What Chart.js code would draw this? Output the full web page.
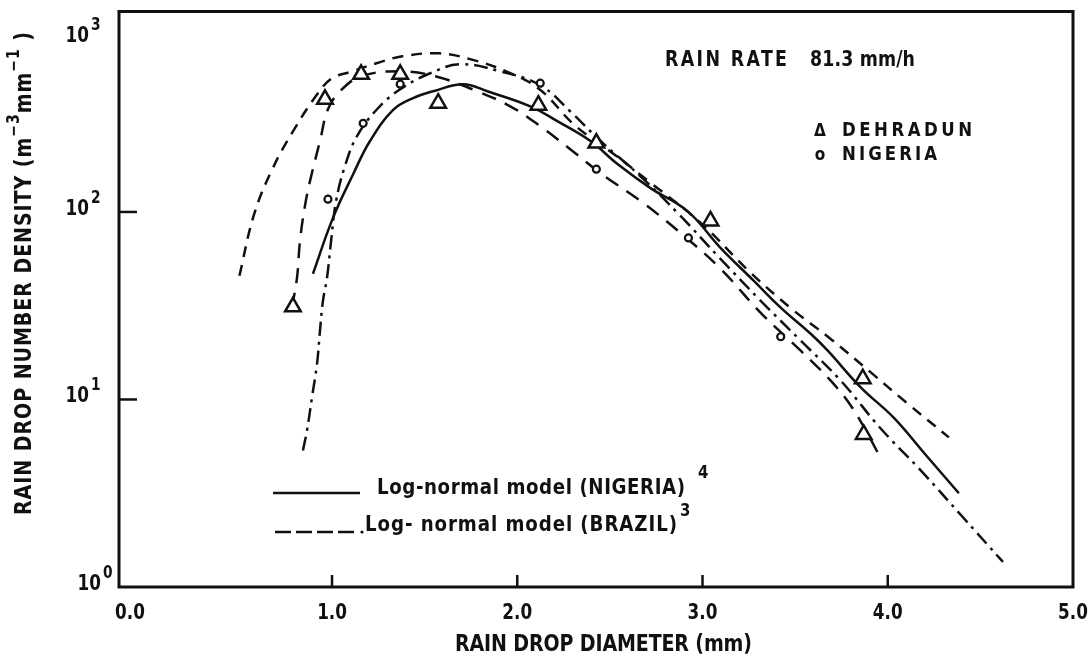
<!DOCTYPE html>
<html><head><meta charset="utf-8">
<script src="https://cdn.jsdelivr.net/npm/chart.js@4.4.1/dist/chart.umd.min.js"></script>
<style>html,body{margin:0;padding:0;background:#fff;}canvas{display:block;}</style>
</head><body>
<canvas id="c" width="1089" height="660"></canvas>
<script>
// ---- data (diameter in mm, number density in m^-3 mm^-1) ----
const nigeriaModelD = [0.897,1.005,1.114,1.205,1.330,1.438,1.546,1.708,1.838,2.070,2.216,2.395,2.541,2.719,2.919,3.097,3.276,3.422,3.584,3.676,3.854,4.032,4.195,4.384];
const nigeriaModelN = [46.8,93,159,239,350,405,440,480,440,366,305,239,180,134,101,64.4,43,30.9,22.4,18.2,11.6,8.0,5.2,3.16];

const brazilModelD = [0.843,0.865,0.892,0.919,0.935,0.951,0.973,0.995,1.022,1.070,1.135,1.243,1.368,1.530,1.692,1.908,2.124,2.286,2.449,2.665,2.881,3.097,3.314,3.530,3.746,3.962,4.178,4.395,4.622];
const brazilModelN = [5.35,6.84,10.3,15.5,23.3,33.6,44.6,70.1,114.5,176,254,353,451,549,613,562,474,344,239,155,95.2,56.2,33.6,20.6,12.6,7.0,4.19,2.42,1.36];

const shortDashD = [0.50,0.58,0.68,0.79,0.92,1.00,1.11,1.24,1.38,1.58,1.75,1.94,2.12,2.31,2.50,2.72,2.99,3.26,3.48,3.69,3.91,4.10,4.33];
const shortDashN = [45.7,97.6,171,270,424,516,562,621,676,701,651,562,451,290,211,143,87.4,47.4,30.5,21.1,13.9,9.64,6.28];

const dehradunFitD = [0.784,0.811,0.827,0.854,0.881,0.935,0.978,1.043,1.157,1.368,1.557,1.784,1.962,2.124,2.286,2.449,2.665,2.881,3.097,3.314,3.530,3.692,3.800,3.881,3.962];
const dehradunFitN = [30.9,44.6,70.1,108,146,239,353,440,529,562,529,440,366,287,216,161,114.5,77.3,49.8,29.0,18.2,12.6,9.29,6.84,4.86];

const dehradunD = [0.789,0.962,1.157,1.368,1.573,2.114,2.427,3.043,3.865,3.870];
const dehradunN = [31.2,399,542,542,380,371,233,89.6,12.9,6.51];

const nigeriaD = [0.978,1.168,1.368,2.124,2.427,2.924,3.422];
const nigeriaN = [117,297,480,486,169,72.7,21.6];

const xTickValues = [0,1,2,3,4,5];
const xTickLabels = ['0.0','1.0','2.0','3.0','4.0','5.0'];
const yTickValues = [1,10,100,1000];
const yTickExponents = ['0','1','2','3'];

const xTitle = 'RAIN DROP DIAMETER (mm)';
const rainRate = ['RAIN RATE', '81.3 mm/h'];
const legendDehradun = 'DEHRADUN';
const legendNigeria = 'NIGERIA';
const legendModelNigeria = 'Log-normal model (NIGERIA)';
const legendModelBrazil = 'Log- normal model (BRAZIL)';

// ---- helpers ----
const pts = (xs, ys) => xs.map((x, i) => ({x, y: ys[i]}));
const FONT = '"DejaVu Sans Condensed","DejaVu Sans",sans-serif';
const HS = 0.92;

function txt(ctx, pieces, x, y, opts) {
  opts = opts || {};
  const hs = opts.hs || HS;
  ctx.textBaseline = 'middle';
  ctx.textAlign = 'left';
  let W = 0, n = 0;
  pieces.forEach(p => {
    ctx.font = `bold ${p.size}px ${FONT}`;
    try { ctx.letterSpacing = '0px'; } catch (e) {}
    p.w = ctx.measureText(p.t).width * hs; W += p.w; n += p.t.length;
  });
  const ls = opts.target ? (opts.target - W) / Math.max(1, n - 1) : (opts.ls || 0);
  const total = W + ls * (n - 1);
  let cx = opts.align === 'center' ? x - total / 2 : opts.align === 'right' ? x - total : x;
  pieces.forEach(p => {
    ctx.save();
    ctx.font = `bold ${p.size}px ${FONT}`;
    ctx.translate(cx, y + (p.dy || 0));
    ctx.scale(hs, 1);
    try { ctx.letterSpacing = (ls / hs) + 'px'; } catch (e) {}
    ctx.fillText(p.t, 0, 0);
    ctx.restore();
    cx += p.w + ls * p.t.length;
  });
  try { ctx.letterSpacing = '0px'; } catch (e) {}
}

const decor = {
  id: 'decor',
  beforeDraw(chart) {
    const c = chart.ctx;
    c.save(); c.fillStyle = '#fff'; c.fillRect(0, 0, chart.width, chart.height); c.restore();
  },
  afterDraw(chart) {
    const ctx = chart.ctx, a = chart.chartArea, xs = chart.scales.x, ys = chart.scales.y;
    ctx.save();
    ctx.strokeStyle = '#111'; ctx.fillStyle = '#111';
    // frame
    ctx.lineWidth = 3;
    ctx.strokeRect(a.left, a.top, a.right - a.left, a.bottom - a.top);
    // inward ticks
    ctx.lineWidth = 2.5;
    xTickValues.forEach(v => {
      const px = xs.getPixelForValue(v);
      if (px > a.left + 40 && px < a.right - 20) {
        ctx.beginPath(); ctx.moveTo(px, a.bottom); ctx.lineTo(px, a.bottom - 12); ctx.stroke();
      }
    });
    yTickValues.forEach(v => {
      const py = ys.getPixelForValue(v);
      if (py > a.top + 30 && py < a.bottom - 20) {
        ctx.beginPath(); ctx.moveTo(a.left, py); ctx.lineTo(a.left + 18, py); ctx.stroke();
      }
    });
    // x tick labels
    xTickValues.forEach((v, i) => {
      let px = xs.getPixelForValue(v);
      if (i === 0) px = a.left + 11;
      txt(ctx, [{t: xTickLabels[i], size: 22}], px, a.bottom + 26, {align: 'center', hs: 0.85});
    });
    // y tick labels 10^n
    yTickValues.forEach((v, i) => {
      let py = ys.getPixelForValue(v) - 3;
      if (py < a.top + 25) py = a.top + 25;
      const shift = py > a.bottom - 10 ? 12 : 0;
      txt(ctx, [{t: '10', size: 22}], 89 + shift, py, {align: 'right', hs: 0.85});
      txt(ctx, [{t: yTickExponents[i], size: 18}], 91 + shift, py - 11, {hs: 0.85});
    });
    // x title
    txt(ctx, [{t: xTitle, size: 23}], 455, 645, {target: 297});
    // y title (rotated)
    ctx.save();
    ctx.translate(25, 515); ctx.rotate(-Math.PI / 2);
    txt(ctx, [
      {t: 'RAIN DROP NUMBER DENSITY (m', size: 23},
      {t: '\u22123', size: 17, dy: -10},
      {t: 'mm', size: 23},
      {t: '\u22121', size: 17, dy: -10},
      {t: ' )', size: 23}
    ], 0, 0, {target: 483});
    ctx.restore();
    // rain rate
    txt(ctx, [{t: rainRate[0], size: 21}], 665, 61, {target: 122});
    txt(ctx, [{t: rainRate[1], size: 21}], 810, 61, {target: 105});
    // point legend
    txt(ctx, [{t: '\u0394', size: 17}], 820, 132, {align: 'center', hs: 1});
    txt(ctx, [{t: 'o', size: 17}], 820, 156, {align: 'center', hs: 1});
    txt(ctx, [{t: legendDehradun, size: 20}], 842, 131, {target: 130});
    txt(ctx, [{t: legendNigeria, size: 20}], 842, 155, {target: 95});
    // model legend
    ctx.lineWidth = 2.5;
    ctx.setLineDash([]);
    ctx.beginPath(); ctx.moveTo(273, 493); ctx.lineTo(360, 493); ctx.stroke();
    ctx.setLineDash([16, 5]);
    ctx.beginPath(); ctx.moveTo(275, 532); ctx.lineTo(356, 532); ctx.stroke();
    ctx.setLineDash([]);
    ctx.beginPath(); ctx.arc(362, 532, 1.6, 0, Math.PI * 2); ctx.fill();
    txt(ctx, [{t: legendModelNigeria, size: 22}], 377, 488, {target: 308});
    txt(ctx, [{t: '4', size: 18}], 698, 473, {});
    txt(ctx, [{t: legendModelBrazil, size: 22}], 365, 525, {target: 312});
    txt(ctx, [{t: '3', size: 18}], 680, 511, {});
    ctx.restore();
  }
};

const lineBase = {borderColor: '#111', borderWidth: 2.5, pointRadius: 0, fill: false, tension: 0.4, showLine: true};

new Chart(document.getElementById('c'), {
  type: 'line',
  data: {
    datasets: [
      {label: 'DEHRADUN', data: pts(dehradunD, dehradunN), showLine: false, pointStyle: 'triangle', pointRadius: 9, pointBorderWidth: 2.5, pointBorderColor: '#111', pointBackgroundColor: '#fff', order: 0},
      {label: 'NIGERIA', data: pts(nigeriaD, nigeriaN), showLine: false, pointStyle: 'circle', pointRadius: 3.5, pointBorderWidth: 2.2, pointBorderColor: '#111', pointBackgroundColor: '#fff', order: 1},
      Object.assign({label: 'Log-normal model (NIGERIA)', data: pts(nigeriaModelD, nigeriaModelN), order: 2}, lineBase),
      Object.assign({label: 'Log-normal model (BRAZIL)', data: pts(brazilModelD, brazilModelN), borderDash: [14, 6, 3, 6], order: 3}, lineBase),
      Object.assign({label: 'short dash', data: pts(shortDashD, shortDashN), borderDash: [11, 8], order: 4}, lineBase),
      Object.assign({label: 'Dehradun fit', data: pts(dehradunFitD, dehradunFitN), borderDash: [15, 10], order: 5}, lineBase)
    ]
  },
  options: {
    responsive: false,
    animation: false,
    layout: {padding: {left: 119, top: 10, right: 16, bottom: 73}},
    plugins: {legend: {display: false}, tooltip: {enabled: false}},
    scales: {
      x: {type: 'linear', min: -0.15, max: 5.0, display: false},
      y: {type: 'logarithmic', min: 1, max: 1172, display: false}
    }
  },
  plugins: [decor]
});
</script>
</body></html>
